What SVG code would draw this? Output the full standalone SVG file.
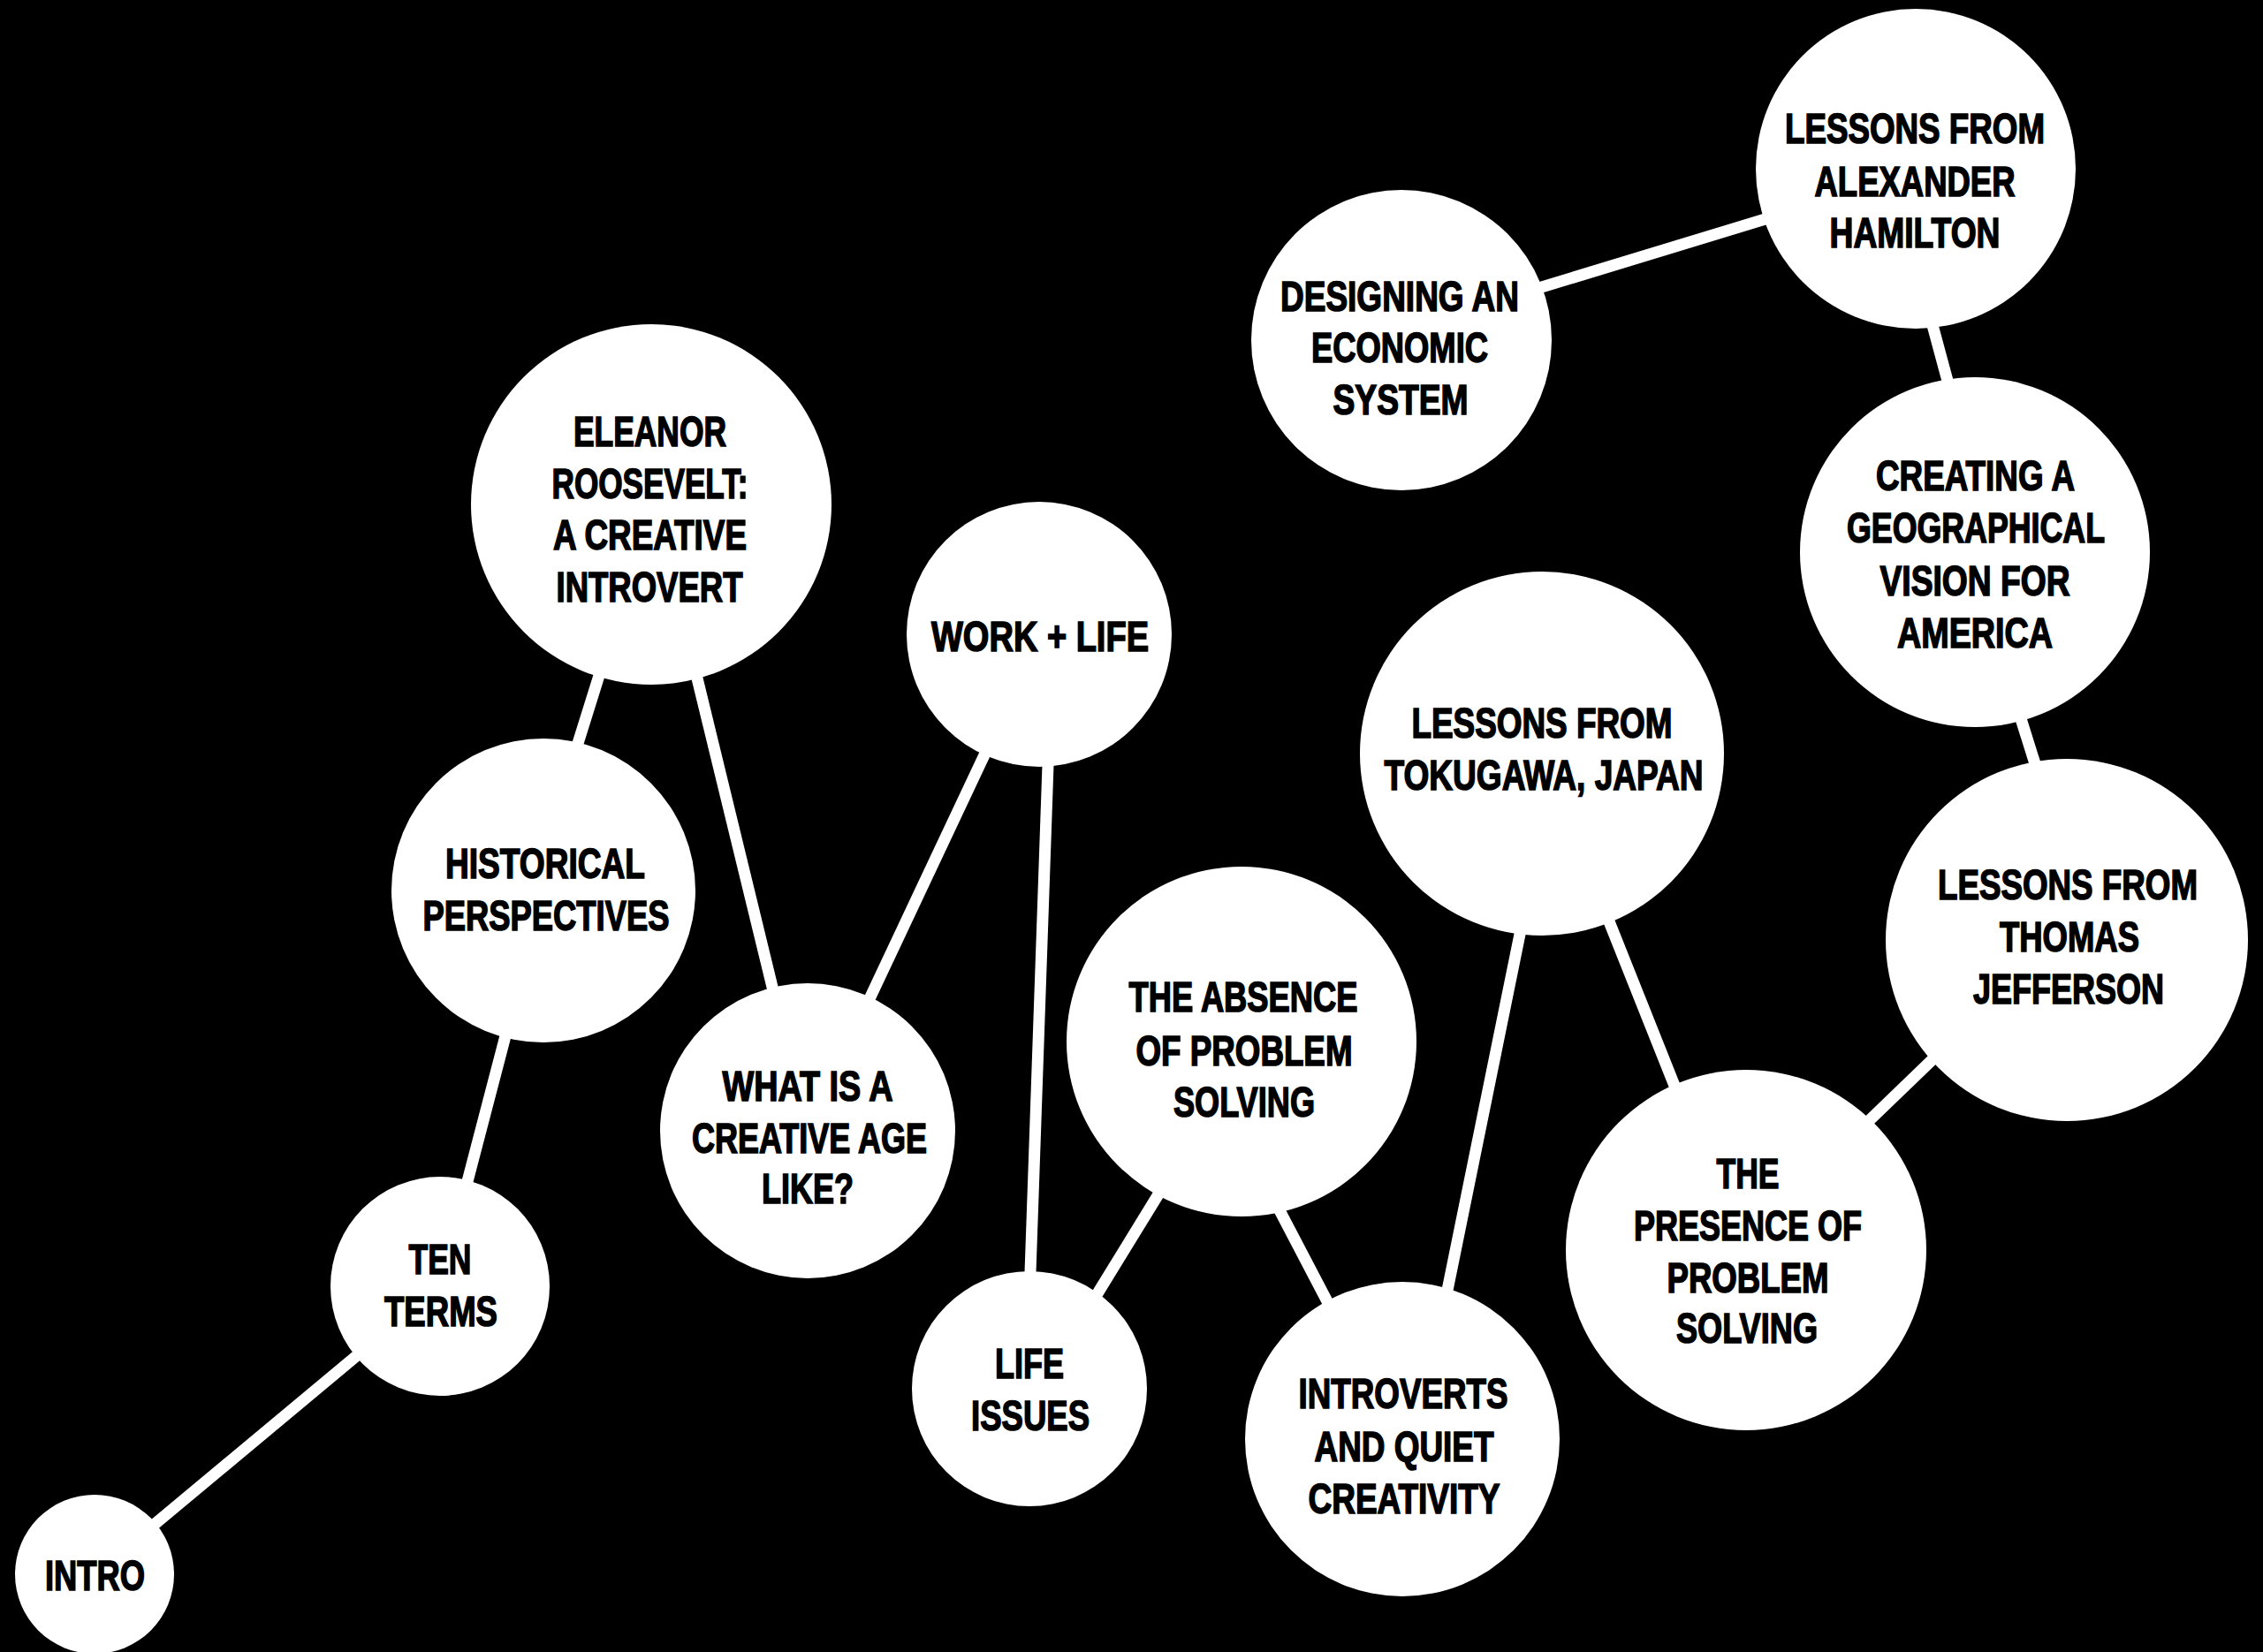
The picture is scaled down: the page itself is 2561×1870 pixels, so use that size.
<svg xmlns="http://www.w3.org/2000/svg" width="2561" height="1870" viewBox="0 0 2561 1870">
<style>
.n{fill:#fff}
.t{font-family:"Liberation Sans Narrow","Liberation Sans",Arial,sans-serif;font-weight:bold;font-size:48px;fill:#000;stroke:#000;stroke-width:1.6;text-anchor:middle}
.c line{stroke:#fff;stroke-width:13}
</style>
<rect width="2561" height="1870" fill="#000"/>
<g id="connectors" class="c">
<line x1="107" y1="1782" x2="498" y2="1456"/>
<line x1="498" y1="1456" x2="615" y2="1008"/>
<line x1="686" y1="739" x2="646" y2="867"/>
<line x1="782" y1="739" x2="881" y2="1146"/>
<line x1="1127" y1="827" x2="973" y2="1154"/>
<line x1="1187" y1="837" x2="1165" y2="1469"/>
<line x1="1325" y1="1329" x2="1228" y2="1487"/>
<line x1="1436" y1="1347" x2="1515" y2="1498"/>
<line x1="1726" y1="1028" x2="1633" y2="1485"/>
<line x1="1813" y1="1023" x2="1905" y2="1254"/>
<line x1="2207" y1="1180" x2="2095" y2="1288"/>
<line x1="2279" y1="788" x2="2311" y2="890"/>
<line x1="2180" y1="342" x2="2211" y2="457"/>
<line x1="1715" y1="334" x2="2024" y2="240"/>
</g>
<g id="intro"><circle class="n" cx="107" cy="1782" r="90"/><text class="t" x="107.5" y="1800" textLength="113" lengthAdjust="spacingAndGlyphs">INTRO</text></g>
<g id="ten-terms"><circle class="n" cx="498" cy="1456" r="124"/><text class="t" x="498" y="1442" textLength="71" lengthAdjust="spacingAndGlyphs">TEN</text><text class="t" x="499" y="1501" textLength="128" lengthAdjust="spacingAndGlyphs">TERMS</text></g>
<g id="historical"><circle class="n" cx="615" cy="1008" r="172"/><text class="t" x="617" y="994" textLength="226" lengthAdjust="spacingAndGlyphs">HISTORICAL</text><text class="t" x="618" y="1053" textLength="279" lengthAdjust="spacingAndGlyphs">PERSPECTIVES</text></g>
<g id="eleanor"><circle class="n" cx="737" cy="571" r="204"/><text class="t" x="735.5" y="505" textLength="173" lengthAdjust="spacingAndGlyphs">ELEANOR</text><text class="t" x="735.5" y="564" textLength="222" lengthAdjust="spacingAndGlyphs">ROOSEVELT:</text><text class="t" x="735.5" y="622" textLength="219" lengthAdjust="spacingAndGlyphs">A CREATIVE</text><text class="t" x="735" y="681" textLength="211" lengthAdjust="spacingAndGlyphs">INTROVERT</text></g>
<g id="what-is"><circle class="n" cx="914" cy="1280" r="167"/><text class="t" x="914" y="1246" textLength="193" lengthAdjust="spacingAndGlyphs">WHAT IS A</text><text class="t" x="916" y="1305" textLength="266" lengthAdjust="spacingAndGlyphs">CREATIVE AGE</text><text class="t" x="914" y="1362" textLength="104" lengthAdjust="spacingAndGlyphs">LIKE?</text></g>
<g id="work-life"><circle class="n" cx="1176" cy="718" r="150"/><text class="t" x="1177" y="737" textLength="246" lengthAdjust="spacingAndGlyphs">WORK + LIFE</text></g>
<g id="life-issues"><circle class="n" cx="1165" cy="1572" r="133"/><text class="t" x="1165" y="1560" textLength="78" lengthAdjust="spacingAndGlyphs">LIFE</text><text class="t" x="1166" y="1619" textLength="134" lengthAdjust="spacingAndGlyphs">ISSUES</text></g>
<g id="absence"><circle class="n" cx="1405" cy="1179" r="198"/><text class="t" x="1407" y="1145" textLength="259" lengthAdjust="spacingAndGlyphs">THE ABSENCE</text><text class="t" x="1408" y="1206" textLength="245" lengthAdjust="spacingAndGlyphs">OF PROBLEM</text><text class="t" x="1408" y="1264" textLength="160" lengthAdjust="spacingAndGlyphs">SOLVING</text></g>
<g id="introverts"><circle class="n" cx="1587" cy="1629" r="178"/><text class="t" x="1588" y="1594" textLength="237" lengthAdjust="spacingAndGlyphs">INTROVERTS</text><text class="t" x="1589" y="1654" textLength="203" lengthAdjust="spacingAndGlyphs">AND QUIET</text><text class="t" x="1589" y="1713" textLength="217" lengthAdjust="spacingAndGlyphs">CREATIVITY</text></g>
<g id="tokugawa"><circle class="n" cx="1745" cy="853" r="206"/><text class="t" x="1745" y="835" textLength="295" lengthAdjust="spacingAndGlyphs">LESSONS FROM</text><text class="t" x="1747" y="894" textLength="361" lengthAdjust="spacingAndGlyphs">TOKUGAWA, JAPAN</text></g>
<g id="presence"><circle class="n" cx="1976" cy="1415" r="204"/><text class="t" x="1978" y="1345" textLength="71" lengthAdjust="spacingAndGlyphs">THE</text><text class="t" x="1978" y="1404" textLength="258" lengthAdjust="spacingAndGlyphs">PRESENCE OF</text><text class="t" x="1978" y="1463" textLength="183" lengthAdjust="spacingAndGlyphs">PROBLEM</text><text class="t" x="1977" y="1520" textLength="160" lengthAdjust="spacingAndGlyphs">SOLVING</text></g>
<g id="jefferson"><circle class="n" cx="2339" cy="1064" r="205"/><text class="t" x="2340" y="1018" textLength="294" lengthAdjust="spacingAndGlyphs">LESSONS FROM</text><text class="t" x="2342" y="1077" textLength="158" lengthAdjust="spacingAndGlyphs">THOMAS</text><text class="t" x="2341" y="1136" textLength="216" lengthAdjust="spacingAndGlyphs">JEFFERSON</text></g>
<g id="geographical"><circle class="n" cx="2235" cy="625" r="198"/><text class="t" x="2235.5" y="555" textLength="225" lengthAdjust="spacingAndGlyphs">CREATING A</text><text class="t" x="2236" y="614" textLength="292" lengthAdjust="spacingAndGlyphs">GEOGRAPHICAL</text><text class="t" x="2235" y="674" textLength="215" lengthAdjust="spacingAndGlyphs">VISION FOR</text><text class="t" x="2235" y="733" textLength="176" lengthAdjust="spacingAndGlyphs">AMERICA</text></g>
<g id="hamilton"><circle class="n" cx="2168" cy="191" r="181"/><text class="t" x="2167" y="162" textLength="294" lengthAdjust="spacingAndGlyphs">LESSONS FROM</text><text class="t" x="2167" y="222" textLength="227" lengthAdjust="spacingAndGlyphs">ALEXANDER</text><text class="t" x="2167" y="280" textLength="193" lengthAdjust="spacingAndGlyphs">HAMILTON</text></g>
<g id="designing"><circle class="n" cx="1586" cy="385" r="170"/><text class="t" x="1584" y="352" textLength="270" lengthAdjust="spacingAndGlyphs">DESIGNING AN</text><text class="t" x="1584" y="409.5" textLength="200" lengthAdjust="spacingAndGlyphs">ECONOMIC</text><text class="t" x="1585" y="469" textLength="153" lengthAdjust="spacingAndGlyphs">SYSTEM</text></g>
</svg>
